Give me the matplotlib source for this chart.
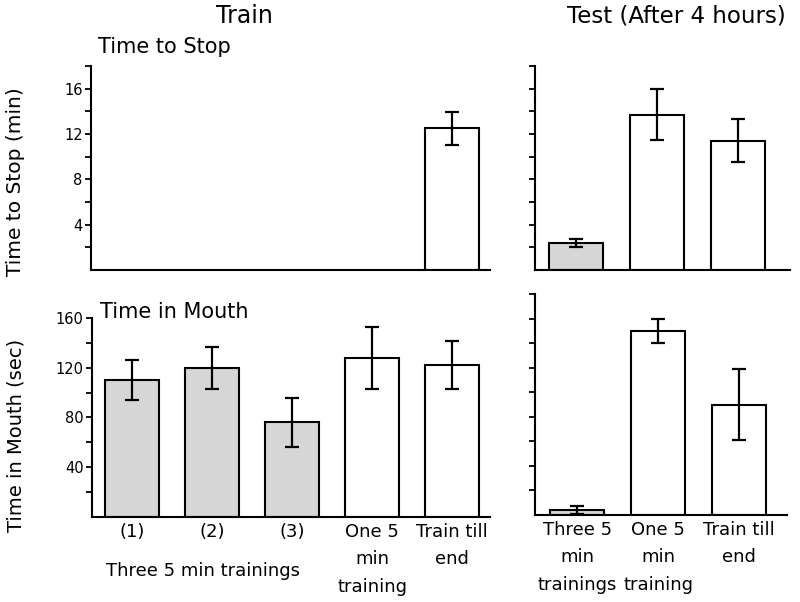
import matplotlib
matplotlib.use('Agg')
import matplotlib.pyplot as plt
import numpy as np

plt.rcParams['font.family'] = ['DejaVu Sans']

# Train panels: five groups
train_labels = ['(1)', '(2)', '(3)', 'One 5\nmin\ntraining', 'Train till\nend']
train_stop = [np.nan, np.nan, np.nan, np.nan, 12.5]
train_stop_err = [np.nan, np.nan, np.nan, np.nan, 1.45]
train_mouth = [110, 120, 76, 128, 122]
train_mouth_err = [16, 17, 20, 25, 19.5]
train_colors = ['#d6d6d6', '#d6d6d6', '#d6d6d6', 'white', 'white']

# Test panels: three groups
test_labels = ['Three 5\nmin\ntrainings', 'One 5\nmin\ntraining', 'Train till\nend']
test_stop = [2.35, 13.7, 11.4]
test_stop_err = [0.35, 2.25, 1.9]
test_mouth = [4, 150, 90]
test_mouth_err = [3.5, 9.5, 29]
test_colors = ['#d6d6d6', 'white', 'white']

fig = plt.figure(figsize=(8, 6.02), dpi=100)

ax_ts = fig.add_axes([0.11375, 0.5515, 0.49875, 0.3389])   # train, time to stop
ax_es = fig.add_axes([0.66875, 0.5515, 0.31875, 0.3389])   # test, time to stop
ax_tm = fig.add_axes([0.115, 0.1412, 0.4975, 0.3306])      # train, time in mouth
ax_em = fig.add_axes([0.66875, 0.1445, 0.315, 0.3671])     # test, time in mouth


def style(ax, yticks, ylabels):
    for s in ['top', 'right']:
        ax.spines[s].set_visible(False)
    for s in ['left', 'bottom']:
        ax.spines[s].set_linewidth(1.5)
    ax.set_yticks(yticks)
    ax.set_yticklabels(ylabels, fontsize=10.5)
    ax.tick_params(axis='y', direction='out', length=4, width=1.3, pad=2)
    ax.tick_params(axis='x', length=0)


def bars(ax, vals, errs, colors):
    x = np.arange(len(vals))
    for i in range(len(vals)):
        if np.isnan(vals[i]):
            continue
        ax.bar(x[i], vals[i], width=0.67, color=colors[i], edgecolor='black', linewidth=1.5, zorder=2)
        ax.errorbar(x[i], vals[i], yerr=errs[i], fmt='none', ecolor='black',
                    elinewidth=1.6, capsize=5, capthick=1.6, zorder=3)


stop_ticks = np.arange(2, 19, 2)
stop_lbls = [str(t) if t % 4 == 0 and t < 18 else '' for t in stop_ticks]
mouth_ticks = np.arange(20, 161, 20)
mouth_lbls = [str(t) if t % 40 == 0 else '' for t in mouth_ticks]

# top left
bars(ax_ts, train_stop, train_stop_err, train_colors)
style(ax_ts, stop_ticks, stop_lbls)
ax_ts.set_xlim(-0.51, 4.475)
ax_ts.set_ylim(0, 18)
ax_ts.set_xticks([])

# top right
bars(ax_es, test_stop, test_stop_err, test_colors)
style(ax_es, stop_ticks, [''] * len(stop_ticks))
ax_es.set_xlim(-0.506, 2.64)
ax_es.set_ylim(0, 18)
ax_es.set_xticks([])

# bottom left
bars(ax_tm, train_mouth, train_mouth_err, train_colors)
style(ax_tm, mouth_ticks, mouth_lbls)
ax_tm.set_xlim(-0.5, 4.475)
ax_tm.set_ylim(0, 160)
ax_tm.set_xticks(np.arange(len(train_labels)))
ax_tm.set_xticklabels(train_labels, fontsize=13, va='top', linespacing=1.7)
ax_tm.tick_params(axis='x', pad=4)
ax_tm.text(0.89, -0.27, 'Three 5 min trainings', transform=ax_tm.get_xaxis_transform(),
           ha='center', va='center', fontsize=13)

# bottom right
bars(ax_em, test_mouth, test_mouth_err, test_colors)
style(ax_em, np.arange(20, 181, 20), [''] * 9)
ax_em.set_xlim(-0.52, 2.59)
ax_em.set_ylim(0, 180)
ax_em.set_xticks(np.arange(len(test_labels)))
ax_em.set_xticklabels(test_labels, fontsize=13, va='top', linespacing=1.7)
ax_em.tick_params(axis='x', pad=4)

# y axis titles
fig.text(16 / 800, 1 - 182 / 602, 'Time to Stop (min)', rotation=90, ha='center', va='center', fontsize=14.5)
fig.text(16 / 800, 1 - 435 / 602, 'Time in Mouth (sec)', rotation=90, ha='center', va='center', fontsize=14)

# headings
fig.text(244 / 800, 1 - 16 / 602, 'Train', ha='center', va='center', fontsize=17)
fig.text(676 / 800, 1 - 16 / 602, 'Test (After 4 hours)', ha='center', va='center', fontsize=16.5)
fig.text(98 / 800, 1 - 47 / 602, 'Time to Stop', ha='left', va='center', fontsize=15)
fig.text(100 / 800, 1 - 312 / 602, 'Time in Mouth', ha='left', va='center', fontsize=15)

fig.savefig('out.png', dpi=100)
